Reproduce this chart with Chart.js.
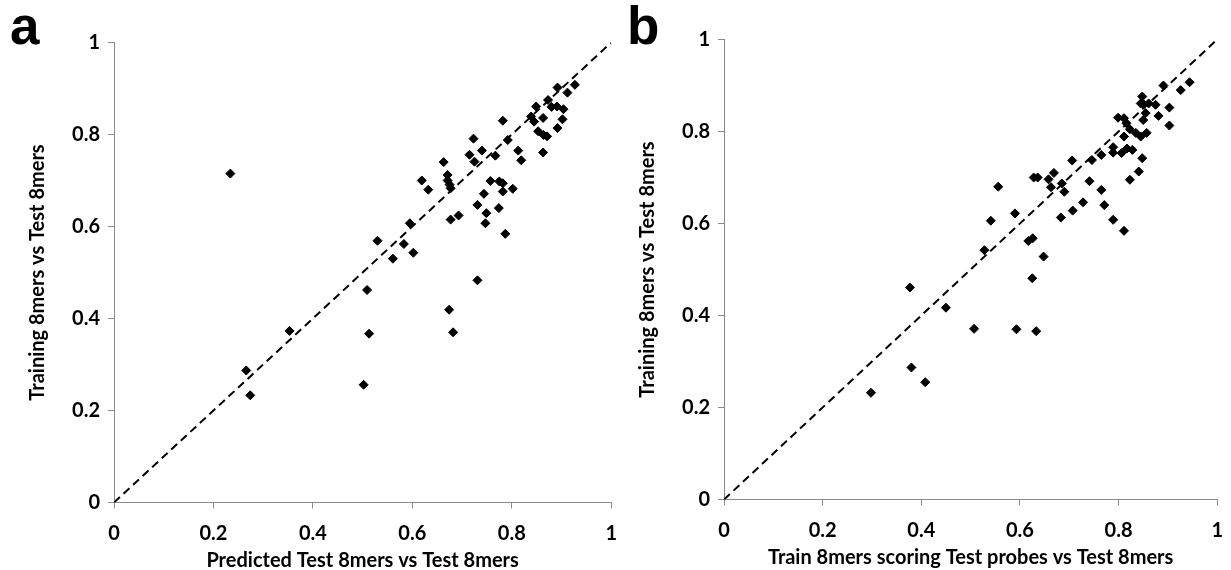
<!DOCTYPE html>
<html>
<head>
<meta charset="utf-8">
<title>8mer scatter</title>
<script src="https://cdn.jsdelivr.net/npm/chart.js@4.4.0/dist/chart.umd.min.js"></script>
<style>
  body { margin: 0; background: #fff; width: 1231px; height: 570px; position: relative; overflow: hidden; }
  canvas { position: absolute; top: 0; }
  #chartA { left: 0; }
  #chartB { left: 615px; }
  .panel-letter { position: absolute; top: -1px; font: bold 53px "Liberation Sans", Arial, sans-serif; line-height: 53px; color: #000; }
</style>
</head>
<body>
<canvas id="chartA" width="625" height="570"></canvas>
<canvas id="chartB" width="616" height="570"></canvas>
<div class="panel-letter" style="left:10px">a</div>
<div class="panel-letter" style="left:627px">b</div>
<script>
'use strict';
/*-------------------------------------------------------*\
     Data
\*-------------------------------------------------------*/
// Tick labels, same on both axes of both panels
var tickLabels = ['0', '0.2', '0.4', '0.6', '0.8', '1'];
// y = x reference line
var diagonal = [0, 1];

// Panel a : predicted test 8mers (x) vs training 8mers (y)
var predictedA = [0.234, 0.266, 0.274, 0.353, 0.502, 0.509, 0.513, 0.530, 0.561, 0.583,
  0.595, 0.602, 0.619, 0.632, 0.663, 0.671, 0.671, 0.675, 0.677, 0.674,
  0.682, 0.677, 0.693, 0.715, 0.723, 0.725, 0.731, 0.731, 0.740, 0.744,
  0.747, 0.749, 0.757, 0.767, 0.774, 0.775, 0.782, 0.782, 0.782, 0.787,
  0.792, 0.802, 0.813, 0.819, 0.839, 0.845, 0.849, 0.853, 0.863, 0.863,
  0.864, 0.871, 0.873, 0.880, 0.891, 0.892, 0.892, 0.902, 0.904, 0.912, 0.927];
var trainingA = [0.715, 0.287, 0.233, 0.373, 0.256, 0.462, 0.367, 0.569, 0.530, 0.562,
  0.607, 0.543, 0.700, 0.680, 0.740, 0.712, 0.700, 0.691, 0.683, 0.419,
  0.370, 0.615, 0.624, 0.756, 0.791, 0.741, 0.647, 0.483, 0.765, 0.671,
  0.607, 0.629, 0.699, 0.754, 0.640, 0.698, 0.694, 0.676, 0.830, 0.584,
  0.788, 0.682, 0.765, 0.744, 0.839, 0.828, 0.861, 0.807, 0.836, 0.761,
  0.799, 0.796, 0.875, 0.860, 0.861, 0.902, 0.814, 0.833, 0.855, 0.891, 0.908];

// Panel b : train 8mers scoring test probes (x) vs training 8mers (y)
var scoringB = [0.298, 0.377, 0.380, 0.408, 0.450, 0.507, 0.528, 0.541, 0.556, 0.590,
  0.593, 0.617, 0.626, 0.625, 0.633, 0.648, 0.628, 0.636, 0.658, 0.663,
  0.669, 0.683, 0.685, 0.690, 0.706, 0.707, 0.728, 0.741, 0.746, 0.765,
  0.765, 0.771, 0.789, 0.789, 0.789, 0.799, 0.806, 0.811, 0.811, 0.811,
  0.816, 0.817, 0.828, 0.823, 0.823, 0.835, 0.841, 0.845, 0.845, 0.848,
  0.848, 0.850, 0.851, 0.855, 0.857, 0.861, 0.875, 0.881, 0.891, 0.903,
  0.903, 0.926, 0.944];
var trainingB = [0.232, 0.461, 0.287, 0.255, 0.417, 0.371, 0.542, 0.606, 0.680, 0.622,
  0.370, 0.562, 0.568, 0.481, 0.366, 0.528, 0.700, 0.700, 0.696, 0.679,
  0.710, 0.613, 0.687, 0.669, 0.737, 0.628, 0.646, 0.692, 0.738, 0.749,
  0.673, 0.640, 0.766, 0.754, 0.608, 0.830, 0.753, 0.829, 0.789, 0.584,
  0.818, 0.763, 0.760, 0.805, 0.695, 0.797, 0.713, 0.789, 0.861, 0.876,
  0.742, 0.825, 0.859, 0.840, 0.797, 0.861, 0.858, 0.834, 0.900, 0.852,
  0.813, 0.890, 0.907];

/*-------------------------------------------------------*\
     Chart setup
\*-------------------------------------------------------*/
var axisGrey = '#8a8a8a';
Chart.defaults.font.family = 'Lato, "Open Sans", sans-serif';
Chart.defaults.color = '#000';

function toPoints(xs, ys) {
  return xs.map(function(x, i) {
    return { x: x, y: ys[i] };
  });
}

// Linear 0..1 axis, grey line with outside tick marks and bold labels.
// labelLineHeight pushes the x labels down without widening the axis padding.
function makeAxis(title, titlePadding, labelLineHeight, fit) {
  return {
    type: 'linear',
    min: 0,
    max: 1,
    border: { display: true, color: axisGrey, width: 1 },
    grid: { display: true, drawOnChartArea: false, drawTicks: true, tickLength: 6, color: axisGrey },
    ticks: {
      stepSize: 0.2,
      padding: 8,
      color: '#000',
      font: { size: 20, weight: 'bold', lineHeight: labelLineHeight },
      callback: function(value, index) {
        return tickLabels[index];
      }
    },
    title: {
      display: true,
      text: title,
      color: '#000',
      font: { size: 20, weight: 'bold' },
      padding: titlePadding
    },
    afterFit: fit
  };
}

// box : fixed sizes so that the plot area sits at the same place in both panels
function buildChart(id, xs, ys, xTitle, box) {
  return new Chart(document.getElementById(id), {
    type: 'scatter',
    data: {
      datasets: [{
        data: toPoints(xs, ys),
        pointStyle: 'rectRot',
        pointRadius: 4.5,
        pointBorderWidth: 1,
        backgroundColor: '#000',
        borderColor: '#000',
        order: 1
      }, {
        type: 'line',
        data: toPoints(diagonal, diagonal),
        showLine: true,
        borderColor: '#000',
        borderWidth: 2,
        borderDash: [8, 5],
        pointRadius: 0,
        fill: false,
        order: 2
      }]
    },
    options: {
      responsive: false,
      animation: false,
      devicePixelRatio: 1,
      layout: { padding: { left: 0, top: box.top, right: box.right, bottom: 0 } },
      plugins: {
        legend: { display: false },
        tooltip: { enabled: false }
      },
      scales: {
        x: makeAxis(xTitle, { top: 0, bottom: box.xTitlePad }, 1.75, function(scale) {
          scale.height = box.xHeight;
        }),
        y: makeAxis('Training 8mers vs Test 8mers', { top: box.yTitlePad, bottom: 0 }, 1.2, function(scale) {
          scale.width = box.yWidth;
        })
      }
    }
  });
}

var chartA = buildChart('chartA', predictedA, trainingA, 'Predicted Test 8mers vs Test 8mers',
  { top: 42.5, right: 11, xHeight: 67.5, yWidth: 114, yTitlePad: 26, xTitlePad: -3 });
var chartB = buildChart('chartB', scoringB, trainingB, 'Train 8mers scoring Test probes vs Test 8mers',
  { top: 39.5, right: 6.5, xHeight: 70.5, yWidth: 109, yTitlePad: 21, xTitlePad: 0 });
</script>
</body>
</html>
